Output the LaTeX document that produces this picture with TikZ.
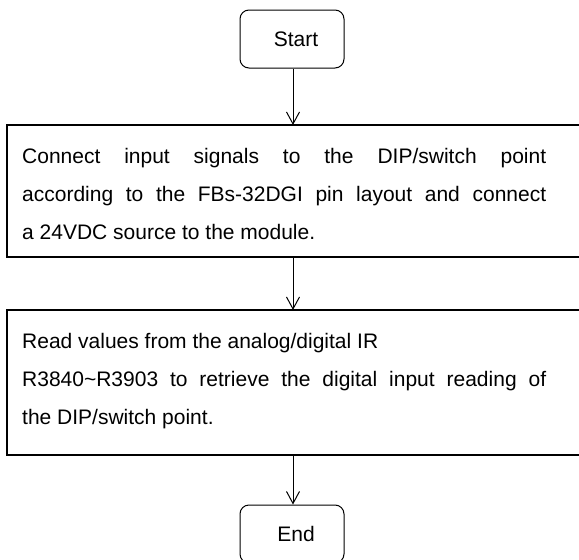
\documentclass[tikz,border=0pt]{standalone}
\usepackage{fontspec}
\setmainfont{Liberation Sans}
\usetikzlibrary{arrows.meta}
\begin{document}
\begin{tikzpicture}[x=1pt,y=1pt,
  term/.style={draw, line width=1pt, rounded corners=9pt, minimum width=104pt, minimum height=58pt, inner sep=0pt, font=\fontsize{21}{25}\selectfont},
  boxarea/.style={minimum width=572pt, inner sep=0pt, anchor=north west},
  boxside/.style={line width=2pt},
  txt/.style={anchor=north west, inner sep=0pt, align=left, font=\fontsize{21}{38}\selectfont},
  flow/.style={line width=1pt, -{Straight Barb[length=12pt,width=13pt,line width=1pt]}}
]
\useasboundingbox (0,0) rectangle (579,-560);
\node[term] (start) at (292,-39) {\hspace*{8pt}Start};
\node[boxarea, minimum height=132pt] (b1) at (7,-125) {};
\draw[boxside] (b1.north east) -- (b1.north west) -- (b1.south west) -- (b1.south east);
\node[txt] (t1) at (22,-148) {\makebox[524pt][s]{Connect input signals to the DIP/switch point}\\\makebox[524pt][s]{according to the FBs-32DGI pin layout and connect}\\a 24VDC source to the module.};
\node[boxarea, minimum height=145pt] (b2) at (7,-310) {};
\draw[boxside] (b2.north east) -- (b2.north west) -- (b2.south west) -- (b2.south east);
\node[txt] (t2) at (22,-333) {Read values from the analog/digital IR\\\makebox[524pt][s]{R3840\textasciitilde R3903 to retrieve the digital input reading of}\\the DIP/switch point.};
\node[term] (end) at (292,-534) {\hspace*{8pt}End};
\coordinate (ax) at (293,0);
\draw[flow] (ax |- start.south) -- (ax |- b1.north);
\draw[flow] (ax |- b1.south) -- (ax |- b2.north);
\draw[flow] (ax |- b2.south) -- (ax |- end.north);
\end{tikzpicture}
\end{document}
